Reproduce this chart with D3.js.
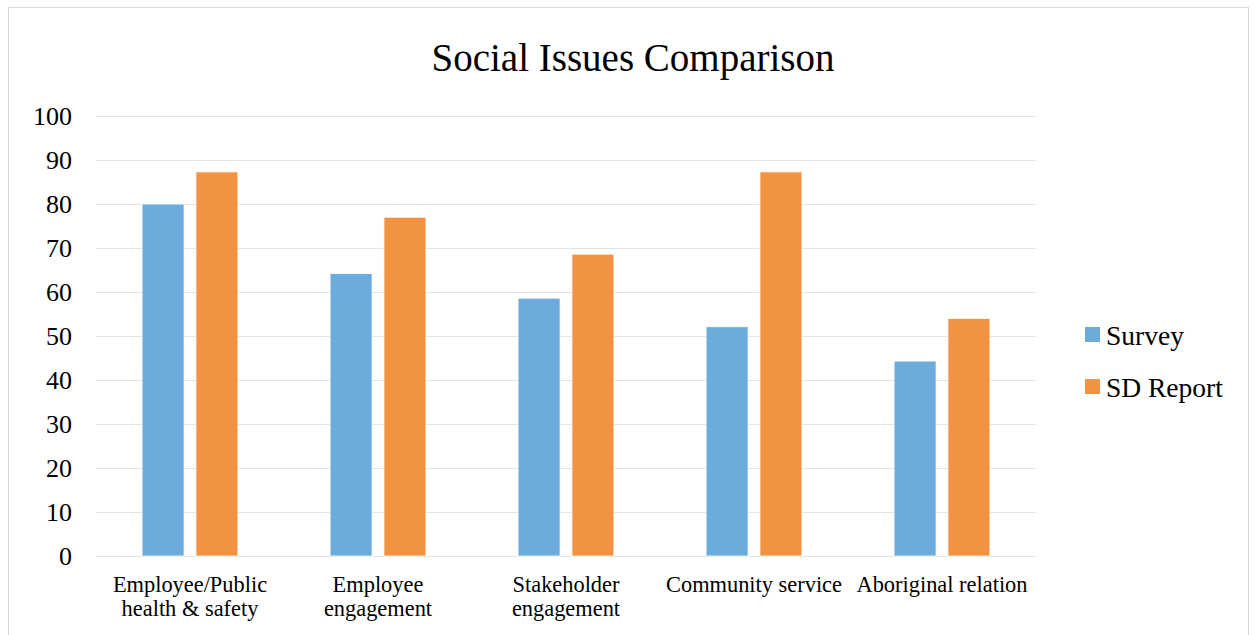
<!DOCTYPE html>
<html>
<head>
<meta charset="utf-8">
<script src="https://cdn.jsdelivr.net/npm/d3@7"></script>
<style>
  body { margin: 0; background: #fff; }
  svg text { font-family: "Liberation Serif", "DejaVu Serif", serif; fill: #000; }
</style>
</head>
<body>
<div id="chart"></div>
<script>
// chart data
const categories = [
   ['Employee/Public', 'health & safety'],
   ['Employee', 'engagement'],
   ['Stakeholder', 'engagement'],
   ['Community service'],
   ['Aboriginal relation'],
];
const seriesNames = ['Survey', 'SD Report'];
const survey = [80, 64.2, 58.6, 52.1, 44.3];
const sdReport = [87.3, 77.0, 68.6, 87.3, 54.0];
const yTicks = [0, 10, 20, 30, 40, 50, 60, 70, 80, 90, 100];
const colors = ['#6cacdc', '#f29342'];

const width = 1258, height = 635;
const margin = { top: 116, right: 222, bottom: 79, left: 96 };

const svg = d3.select('#chart').append('svg')
   .attr('width', width)
   .attr('height', height);

// outer chart frame
svg.append('rect')
   .attr('x', 8.5).attr('y', 7.5)
   .attr('width', 1240).attr('height', 640)
   .attr('fill', 'none')
   .attr('stroke', '#d9d9d9');

const x0 = d3.scaleBand()
   .domain(d3.range(categories.length))
   .range([margin.left, width - margin.right])
   .paddingInner(0.49)
   .paddingOuter(0.245);

const x1 = d3.scaleBand()
   .domain(seriesNames)
   .range([0, x0.bandwidth()])
   .paddingInner(0.22);

const y = d3.scaleLinear()
   .domain([0, 100])
   .range([height - margin.bottom, margin.top]);

// gridlines
svg.append('g')
   .selectAll('line')
   .data(yTicks)
   .join('line')
   .attr('x1', margin.left)
   .attr('x2', width - margin.right)
   .attr('y1', (d) => y(d) + 0.5)
   .attr('y2', (d) => y(d) + 0.5)
   .attr('stroke', '#e3e3e3')
   .attr('stroke-width', 1.2);

// y tick labels
svg.append('g')
   .selectAll('text')
   .data(yTicks)
   .join('text')
   .attr('x', 72)
   .attr('y', (d) => y(d))
   .attr('dy', '0.35em')
   .attr('text-anchor', 'end')
   .style('font-size', '26px')
   .text((d) => d);

// bars
const rows = categories.map((c, i) => [
   { key: seriesNames[0], value: survey[i] },
   { key: seriesNames[1], value: sdReport[i] },
]);

svg.append('g')
   .selectAll('g')
   .data(rows)
   .join('g')
   .attr('transform', (d, i) => `translate(${x0(i)},0)`)
   .selectAll('rect')
   .data((d) => d)
   .join('rect')
   .attr('x', (d) => x1(d.key))
   .attr('y', (d) => y(d.value))
   .attr('width', x1.bandwidth())
   .attr('height', (d) => y(0) - y(d.value))
   .attr('fill', (d, i) => colors[i])
   .attr('stroke', '#fff')
   .attr('stroke-width', 0.8);

// x labels
svg.append('g')
   .selectAll('text')
   .data(categories)
   .join('text')
   .attr('x', (d, i) => x0(i) + x0.bandwidth() / 2)
   .attr('y', 592)
   .attr('text-anchor', 'middle')
   .style('font-size', '22.4px')
   .selectAll('tspan')
   .data((d) => d)
   .join('tspan')
   .attr('x', function () { return this.parentNode.getAttribute('x'); })
   .attr('dy', (d, i) => (i === 0 ? 0 : 24))
   .text((d) => d);

// title
svg.append('text')
   .attr('x', 633)
   .attr('y', 71)
   .attr('text-anchor', 'middle')
   .style('font-size', '39px')
   .text('Social Issues Comparison');

// legend
const legend = svg.append('g')
   .selectAll('g')
   .data(seriesNames)
   .join('g')
   .attr('transform', (d, i) => `translate(1085,${327 + i * 52})`);

legend.append('rect')
   .attr('width', 15)
   .attr('height', 15)
   .attr('fill', (d, i) => colors[i]);

legend.append('text')
   .attr('x', 21)
   .attr('y', 18)
   .style('font-size', '27.5px')
   .text((d) => d);
</script>
</body>
</html>
